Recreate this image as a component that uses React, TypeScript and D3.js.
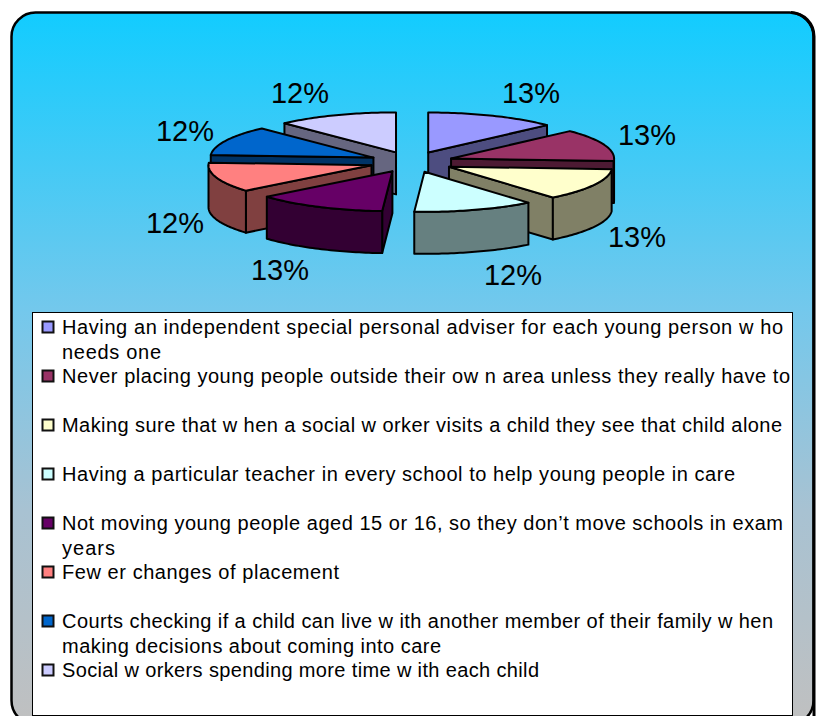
import React from "react";
import * as d3 from "d3";

const percentages = [13, 13, 13, 12, 13, 12, 12, 12];
const topColors = ["#9999ff", "#993366", "#ffffcc", "#ccffff", "#660066", "#ff8080", "#0066cc", "#ccccff"];
const wallColors = ["#4d4d80", "#4d1a33", "#808066", "#668080", "#330033", "#804040", "#003366", "#666680"];
const legendLabels = [
  ["Having an independent special personal adviser for each young person w ho", "needs one"],
  ["Never placing young people outside their ow n area unless they really have to"],
  ["Making sure that w hen a social w orker visits a child they see that child alone"],
  ["Having a particular teacher in every school to help young people in care"],
  ["Not moving young people aged 15 or 16, so they don\u2019t move schools in exam", "years"],
  ["Few er changes of placement"],
  ["Courts checking if a child can live w ith another member of their family w hen", "making decisions about coming into care"],
  ["Social w orkers spending more time w ith each child"],
];

// layout
const W = 816, H = 716;
const cx = 411.5, cy = 162, rx = 163, ry = 40, depth = 42, explode = 0.258;
const labelCenters: [number, number][] = [[531, 103], [647, 145], [637, 247], [513, 285], [280, 280], [175, 233], [185, 141], [300, 103]];
const legendLineWidths = [[721, 99], [728], [720], [673], [721, 53], [277], [711, 379], [477]];
const drawOrder = [7, 0, 6, 1, 5, 2, 4, 3];
const STROKE = "#000";

type P = [number, number];
const line = d3.line<P>().x(d => d[0]).y(d => d[1]);

export default function App() {
  const arcs = d3.pie<number>().sort(null).value(d => d)(percentages);
  const legendY = d3.scaleLinear().domain([0, 1]).range([327, 376]);

  const slices = arcs.map((a, i) => {
    const mid = (a.startAngle + a.endAngle) / 2;
    const ax = cx + explode * rx * Math.sin(mid);
    const ay = cy - explode * ry * Math.cos(mid);
    const pt = (t: number): P => [ax + rx * Math.sin(t), ay - ry * Math.cos(t)];
    const samples = (s: number, e: number) => d3.range(0, 41).map(k => pt(s + ((e - s) * k) / 40));
    const apex: P = [ax, ay];
    const down = (p: P): P => [p[0], p[1] + depth];
    const top = (line([apex, ...samples(a.startAngle, a.endAngle)]) ?? "") + "Z";
    const walls: string[] = [];
    if (a.startAngle >= Math.PI && a.startAngle < 2 * Math.PI) {
      const p = pt(a.startAngle);
      walls.push((line([apex, p, down(p), down(apex)]) ?? "") + "Z");
    }
    if (a.endAngle > 0 && a.endAngle <= Math.PI) {
      const p = pt(a.endAngle);
      walls.push((line([apex, p, down(p), down(apex)]) ?? "") + "Z");
    }
    const fs = Math.max(a.startAngle, Math.PI / 2);
    const fe = Math.min(a.endAngle, (3 * Math.PI) / 2);
    if (fe > fs) {
      const arc = samples(fs, fe);
      walls.push((line([...arc, ...arc.slice().reverse().map(down)]) ?? "") + "Z");
    }
    return { i, top, walls };
  });

  return (
    <svg width={W} height={H} viewBox={`0 0 ${W} ${H}`} style={{ position: "absolute", left: 0, top: 0, background: "#fff" }}
      fontFamily="'Liberation Sans', Arial, sans-serif">
      <defs>
        <linearGradient id="bg" x1="0" y1="0" x2="0" y2="1">
          <stop offset="0" stopColor="#12ccff" />
          <stop offset="0.42" stopColor="#74c8ec" />
          <stop offset="0.7" stopColor="#a8c2d2" />
          <stop offset="1" stopColor="#c0c0c0" />
        </linearGradient>
      </defs>
      <rect x={11.5} y={12.5} width={802} height={712} rx={24} fill="url(#bg)" stroke={STROKE} strokeWidth={2.5} />
      <path d="M791 12.5 A24 24 0 0 1 814 36.5 V724" fill="none" stroke={STROKE} strokeWidth={3} />

      {drawOrder.map(i => {
        const s = slices[i];
        return (
          <g key={i} stroke={STROKE} strokeWidth={2} strokeLinejoin="round">
            {s.walls.map((d, k) => <path key={k} d={d} fill={wallColors[i]} />)}
            <path d={s.top} fill={topColors[i]} />
          </g>
        );
      })}

      {percentages.map((p, i) => (
        <text key={i} x={labelCenters[i][0]} y={labelCenters[i][1]} textAnchor="middle" fontSize={29} fill="#000">{p}%</text>
      ))}

      <rect x={32.5} y={312.5} width={760} height={403} fill="#fff" stroke={STROKE} strokeWidth={1} />
      {legendLabels.map((lines, i) => (
        <g key={i}>
          <rect x={42.5} y={legendY(i) - 5.5} width={11} height={11} fill={topColors[i]} stroke="#111" strokeWidth={2} />
          {lines.map((t, k) => (
            <text key={k} x={62} y={legendY(i) + 7 + k * 24.5} fontSize={20} fill="#000"
              textLength={legendLineWidths[i][k]} lengthAdjust="spacing">
              {t}
            </text>
          ))}
        </g>
      ))}
    </svg>
  );
}
